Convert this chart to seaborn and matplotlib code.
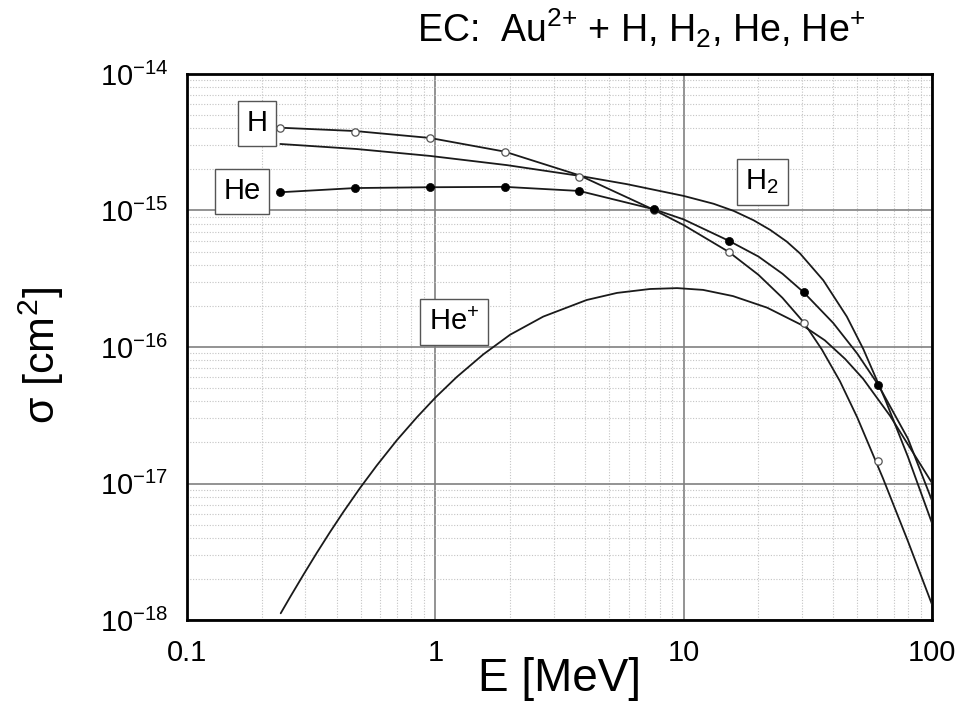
import matplotlib
matplotlib.use("Agg")
import matplotlib.pyplot as plt
import matplotlib.ticker as mtick
import seaborn as sns

# measured points: open circles = H, filled = He
e_pts = [0.2375, 0.475, 0.95, 1.9, 3.8, 7.6, 15.2, 30.4, 60.8]
h_pts = [4.04e-15, 3.77e-15, 3.41e-15, 2.70e-15, 1.77e-15, 1.0e-15, 5.0e-16, 1.5e-16, 1.45e-17]
he_pts = [1.36e-15, 1.46e-15, 1.48e-15, 1.49e-15, 1.39e-15, 1.02e-15, 6.0e-16, 2.52e-16, 5.27e-17]

# curves
h_e = [0.2375, 0.475, 0.95, 1.9, 3.8, 7.6, 10, 15.2, 20, 25, 30.4, 36, 42.6, 50, 63.5, 80, 100]
h_s = [4.04e-15, 3.82e-15, 3.40e-15, 2.70e-15, 1.81e-15, 1.01e-15, 7.82e-16, 4.97e-16,
       3.38e-16, 2.29e-16, 1.52e-16, 9.6e-17, 5.61e-17, 3.05e-17, 1.09e-17, 3.78e-18, 1.30e-18]

he_e = [0.2375, 0.475, 0.95, 1.9, 3.8, 7.6, 10, 15.2, 20, 25, 30.4, 40, 50, 60.8, 80, 100]
he_s = [1.36e-15, 1.46e-15, 1.48e-15, 1.49e-15, 1.39e-15, 1.02e-15, 8.6e-16, 6.0e-16,
        4.6e-16, 3.44e-16, 2.52e-16, 1.50e-16, 8.95e-17, 5.27e-17, 2.13e-17, 7.5e-18]

h2_e = [0.2375, 0.482, 0.952, 1.94, 3.83, 5.9, 9.97, 13.2, 15.9, 19.1, 22.3, 26,
        29.4, 36.5, 45.4, 52.9, 65, 80, 100]
h2_s = [3.07e-15, 2.82e-15, 2.51e-15, 2.15e-15, 1.79e-15, 1.56e-15, 1.28e-15, 1.12e-15,
        9.93e-16, 8.49e-16, 7.21e-16, 5.92e-16, 4.85e-16, 3.08e-16, 1.67e-16, 9.66e-17,
        4.07e-17, 1.57e-17, 5.13e-18]

hep_e = [0.2384, 0.260, 0.294, 0.333, 0.377, 0.426, 0.497, 0.581, 0.699, 0.842, 1.004,
         1.22, 1.56, 2.0, 2.72, 4.07, 5.39, 7.32, 9.41, 11.97, 15.8, 21.7, 30.3, 37,
         44.7, 52.8, 67.8, 100]
hep_s = [1.12e-18, 1.47e-18, 2.14e-18, 3.10e-18, 4.42e-18, 6.18e-18, 9.25e-18, 1.355e-17,
         2.07e-17, 3.05e-17, 4.29e-17, 6.03e-17, 8.83e-17, 1.23e-16, 1.67e-16, 2.21e-16,
         2.49e-16, 2.66e-16, 2.70e-16, 2.62e-16, 2.36e-16, 1.94e-16, 1.43e-16, 1.12e-16,
         8.17e-17, 5.85e-17, 3.13e-17, 1.01e-17]

sns.set_style("white")
plt.rcParams['font.family'] = ['Liberation Sans', 'DejaVu Sans']
plt.rcParams['mathtext.fontset'] = 'custom'
plt.rcParams['mathtext.rm'] = 'Liberation Sans'
plt.rcParams['mathtext.it'] = 'Liberation Sans:italic'
plt.rcParams['mathtext.bf'] = 'Liberation Sans:bold'
for k in ['text.color', 'axes.labelcolor', 'xtick.color', 'ytick.color']:
    plt.rcParams[k] = 'black'

fig = plt.figure(figsize=(9.62, 7.12), dpi=100)
ax = fig.add_axes([0.1944, 0.1292, 0.7744, 0.7669])
ax.set(xscale='log', yscale='log')

line_kw = dict(color='#1a1a1a', linewidth=1.3, estimator=None, sort=False, legend=False)
for xs, ys in [(h_e, h_s), (he_e, he_s), (h2_e, h2_s), (hep_e, hep_s)]:
    sns.lineplot(x=xs, y=ys, ax=ax, zorder=3, **line_kw)

sns.scatterplot(x=e_pts, y=h_pts, ax=ax, marker='o', s=28, facecolor='white',
                edgecolor='#555555', linewidth=0.9, zorder=4, legend=False)
sns.scatterplot(x=e_pts, y=he_pts, ax=ax, marker='o', s=34, color='black',
                edgecolor='black', linewidth=0.5, zorder=5, legend=False)

ax.set_xlim(0.1, 100)
ax.set_ylim(1e-18, 1e-14)

ax.xaxis.set_major_locator(mtick.FixedLocator([0.1, 1, 10, 100]))
ax.xaxis.set_major_formatter(mtick.FixedFormatter(['0.1', '1', '10', '100']))
ax.xaxis.set_minor_locator(mtick.LogLocator(base=10, subs=range(2, 10), numticks=20))
ax.xaxis.set_minor_formatter(mtick.NullFormatter())
ax.yaxis.set_major_locator(mtick.FixedLocator([1e-18, 1e-17, 1e-16, 1e-15, 1e-14]))
ax.yaxis.set_major_formatter(mtick.LogFormatterSciNotation())
ax.yaxis.set_minor_locator(mtick.LogLocator(base=10, subs=range(2, 10), numticks=20))
ax.yaxis.set_minor_formatter(mtick.NullFormatter())

ax.grid(which='major', color='#808080', linewidth=1.2, linestyle='-', zorder=1)
ax.grid(which='minor', color='#c4c4c4', linewidth=0.8, linestyle=(0, (1, 1.5)), zorder=1)
ax.set_axisbelow(True)

ax.tick_params(which='major', direction='out', length=8.5, width=1.6, labelsize=21,
               pad=5, top=False, right=False)
ax.tick_params(which='minor', direction='out', length=5, width=1.4, top=False, right=False)
for sp in ax.spines.values():
    sp.set_linewidth(2)
    sp.set_color('black')

ax.set_xlabel('E [MeV]', fontsize=33)
ax.xaxis.set_label_coords(0.5, -0.068)
ax.set_ylabel('σ [cm$^2$]', fontsize=31, va='center')
ax.yaxis.set_label_coords(-0.195, 0.485)

fig.text(641 / 962, 1 - 42 / 712, 'EC:  Au$^{2{+}}$ + H, H$_2$, He, He$^{{+}}$',
         ha='center', va='baseline', fontsize=27)

box = dict(boxstyle='square,pad=0.3', fc='white', ec='#555555', lw=1)
ax.text(0.191, 4.34e-15, 'H', ha='center', va='center', fontsize=21, bbox=box, zorder=6)
ax.text(0.1665, 1.38e-15, 'He', ha='center', va='center', fontsize=21, bbox=box, zorder=6)
ax.text(20.7, 1.62e-15, 'H$_2$', ha='center', va='center', fontsize=21, bbox=box, zorder=6)
ax.text(1.19, 1.52e-16, 'He$^{{+}}$', ha='center', va='center', fontsize=21, bbox=box, zorder=6)

fig.savefig('out.png', dpi=100)
